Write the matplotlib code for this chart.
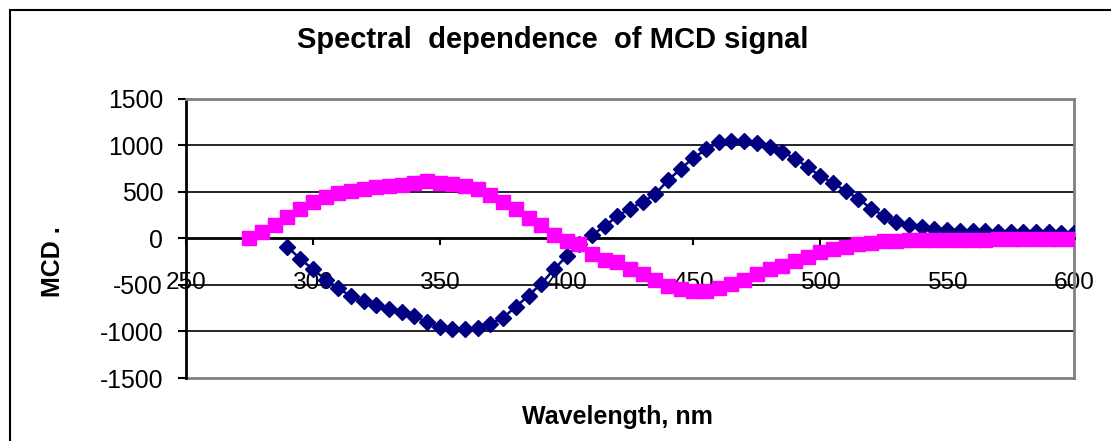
import matplotlib
matplotlib.use("Agg")
import matplotlib.pyplot as plt
from matplotlib.patches import Rectangle

plt.rcParams['font.family'] = ['Liberation Sans', 'DejaVu Sans']
plt.rcParams['axes.unicode_minus'] = False

# blue series (diamonds), every 5 nm from 290 nm
wl_blue = [290, 295, 300, 305, 310, 315, 320, 325, 330, 335, 340, 345, 350,
           355, 360, 365, 370, 375, 380, 385, 390, 395, 400, 405, 410, 415,
           420, 425, 430, 435, 440, 445, 450, 455, 460, 465, 470, 475, 480,
           485, 490, 495, 500, 505, 510, 515, 520, 525, 530, 535, 540, 545,
           550, 555, 560, 565, 570, 575, 580, 585, 590, 595, 600]
mcd_blue = [-90, -219, -330, -441, -535, -620, -675, -720, -758, -790, -835,
            -902, -949, -970, -973, -960, -917, -850, -735, -613, -487, -333,
            -190, -54, 36, 133, 240, 322, 391, 480, 627, 749, 867, 957, 1035,
            1046, 1046, 1028, 986, 935, 857, 771, 670, 600, 510, 428, 322,
            247, 175, 140, 126, 97, 88, 86, 80, 78, 74, 72, 70, 68, 66, 64, 62]

# magenta series (squares), every 5 nm from 275 nm
wl_pink = [275, 280, 285, 290, 295, 300, 305, 310, 315, 320, 325, 330, 335,
           340, 345, 350, 355, 360, 365, 370, 375, 380, 385, 390, 395, 400,
           405, 410, 415, 420, 425, 430, 435, 440, 445, 450, 455, 460, 465,
           470, 475, 480, 485, 490, 495, 500, 505, 510, 515, 520, 525, 530,
           535, 540, 545, 550, 555, 560, 565, 570, 575, 580, 585, 590, 595, 600]
mcd_pink = [0, 65, 140, 232, 318, 392, 445, 485, 512, 535, 552, 565, 580,
            600, 615, 600, 585, 565, 527, 473, 390, 312, 222, 150, 43, -29,
            -54, -172, -226, -255, -333, -387, -441, -512, -548, -566, -566,
            -530, -487, -441, -387, -333, -297, -244, -200, -150, -118, -90,
            -64, -47, -29, -22, -18, -16, -15, -14, -13, -12, -11, -10, -9,
            -8, -7, -6, -5, -5]

x_ticks = [250, 300, 350, 400, 450, 500, 550, 600]
y_ticks = [-1500, -1000, -500, 0, 500, 1000, 1500]

W, H = 1111, 441
fig = plt.figure(figsize=(W / 100, H / 100), dpi=100)
ax = fig.add_axes([186 / W, 1 - 378 / H, (1074 - 186) / W, (378 - 99) / H])

# outer chart frame (cut off at right/bottom)
fig.patches.append(Rectangle((10 / W, -0.2), 2, 1.2 - 10 / H, transform=fig.transFigure,
                             fill=False, edgecolor='black', linewidth=1.5))

for yv in [-1000, -500, 500, 1000]:
    ax.axhline(yv, color='black', linewidth=1.2, zorder=1)
ax.axhline(-1500, color='#808080', linewidth=2, zorder=1, clip_on=False)

ax.plot(wl_blue, mcd_blue, color='#000080', linewidth=1.8, marker='D',
        markersize=8, markerfacecolor='#000080', markeredgecolor='#000080', zorder=3)
ax.plot(wl_pink, mcd_pink, color='#FF00FF', linewidth=1.8, marker='s',
        markersize=9.5, markerfacecolor='#FF00FF', markeredgecolor='#FF00FF', zorder=4)

ax.set_xlim(250, 600)
ax.set_ylim(-1500, 1500)
ax.set_xticks(x_ticks)
ax.set_yticks(y_ticks)

ax.spines['bottom'].set_position(('data', 0))
ax.spines['bottom'].set_linewidth(2)
ax.spines['left'].set_linewidth(2)
ax.spines['top'].set_color('#808080')
ax.spines['right'].set_color('#808080')
ax.spines['top'].set_linewidth(2)
ax.spines['right'].set_linewidth(2)

ax.tick_params(axis='x', direction='out', length=5, width=1.5, pad=19, labelsize=17.6)
ax.tick_params(axis='y', direction='out', length=6, width=1.5, pad=10.5, labelsize=17.8)

fig.text(553 / W, 1 - 40 / H, 'Spectral  dependence  of MCD signal', ha='center',
         va='center', fontsize=21, fontweight='bold')
fig.text(617 / W, 1 - 417 / H, 'Wavelength, nm', ha='center', va='center',
         fontsize=18, fontweight='bold')
fig.text(53 / W, 1 - 262 / H, 'MCD .', ha='center', va='center', rotation=90,
         fontsize=18, fontweight='bold')

fig.savefig('out.png', dpi=100)
